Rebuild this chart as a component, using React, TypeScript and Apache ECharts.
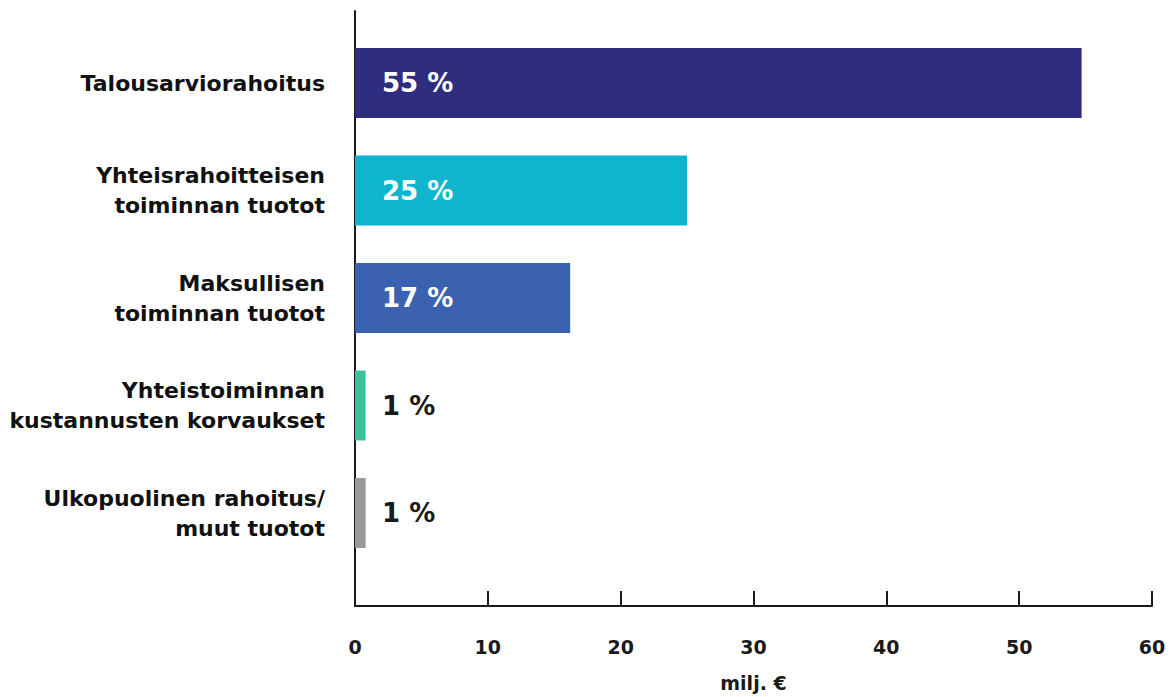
import React, { useEffect, useRef } from "react";
import * as echarts from "echarts";

const categories = [
  "Talousarviorahoitus",
  "Yhteisrahoitteisen\ntoiminnan tuotot",
  "Maksullisen\ntoiminnan tuotot",
  "Yhteistoiminnan\nkustannusten korvaukset",
  "Ulkopuolinen rahoitus/\nmuut tuotot",
];
const values = [54.7, 25.0, 16.2, 0.8, 0.8];
const shareLabels = ["55 %", "25 %", "17 %", "1 %", "1 %"];
const barColors = ["#2E2D7F", "#0DB6CD", "#3A62B0", "#3CC29C", "#999999"];
const labelColors = ["#ffffff", "#ffffff", "#ffffff", "#1a1a1a", "#1a1a1a"];
const xTicks = [0, 10, 20, 30, 40, 50, 60];

const FONT = "'DejaVu Sans', sans-serif";

export default function App() {
  const ref = useRef<HTMLDivElement>(null);
  useEffect(() => {
    if (!ref.current) return;
    const chart = echarts.init(ref.current, undefined, { renderer: "svg" });
    const option = {
      animation: false,
      backgroundColor: "#ffffff",
      grid: [
        { left: 355, right: 18, top: 29.25, height: 537.5, containLabel: false },
        { left: 355, right: 18, top: 11, height: 606, containLabel: false },
      ],
      xAxis: [
        {
          gridIndex: 0,
          type: "value",
          min: xTicks[0],
          max: xTicks[xTicks.length - 1],
          interval: 10,
          show: false,
        },
        {
          gridIndex: 1,
          type: "value",
          min: xTicks[0],
          max: xTicks[xTicks.length - 1],
          interval: 10,
          name: "milj. €",
          nameLocation: "middle",
          nameGap: 67,
          nameTextStyle: { fontFamily: FONT, fontWeight: 700, fontSize: 19, color: "#1a1a1a" },
          axisLine: { show: true, lineStyle: { color: "#1a1a1a", width: 2 } },
          axisTick: { show: true, inside: true, length: 15, lineStyle: { color: "#1a1a1a", width: 2 } },
          axisLabel: { margin: 31, fontFamily: FONT, fontWeight: 700, fontSize: 19, color: "#1a1a1a" },
          splitLine: { show: false },
        },
      ],
      yAxis: [
        {
          gridIndex: 0,
          type: "category",
          inverse: true,
          data: categories,
          axisLine: { show: false },
          axisTick: { show: false },
          axisLabel: {
            margin: 30,
            fontFamily: FONT,
            fontWeight: 700,
            fontSize: 22,
            lineHeight: 30,
            color: "#111111",
            align: "right",
          },
        },
        {
          gridIndex: 1,
          type: "value",
          min: 0,
          max: 1,
          axisLine: { show: true, onZero: false, lineStyle: { color: "#1a1a1a", width: 2 } },
          axisTick: { show: false },
          axisLabel: { show: false },
          splitLine: { show: false },
        },
      ],
      series: [
        {
          type: "bar",
          xAxisIndex: 0,
          yAxisIndex: 0,
          barWidth: 70,
          data: values.map((v, i) => ({
            value: v,
            itemStyle: { color: barColors[i] },
            label: {
              show: true,
              position: "insideLeft",
              distance: 27,
              formatter: shareLabels[i],
              color: labelColors[i],
              fontFamily: FONT,
              fontWeight: 700,
              fontSize: 26,
            },
          })),
        },
      ],
    };
    chart.setOption(option);
    return () => chart.dispose();
  }, []);
  return (
    <div
      ref={ref}
      style={{ position: "fixed", left: 0, top: 0, width: 1170, height: 697 }}
    />
  );
}
